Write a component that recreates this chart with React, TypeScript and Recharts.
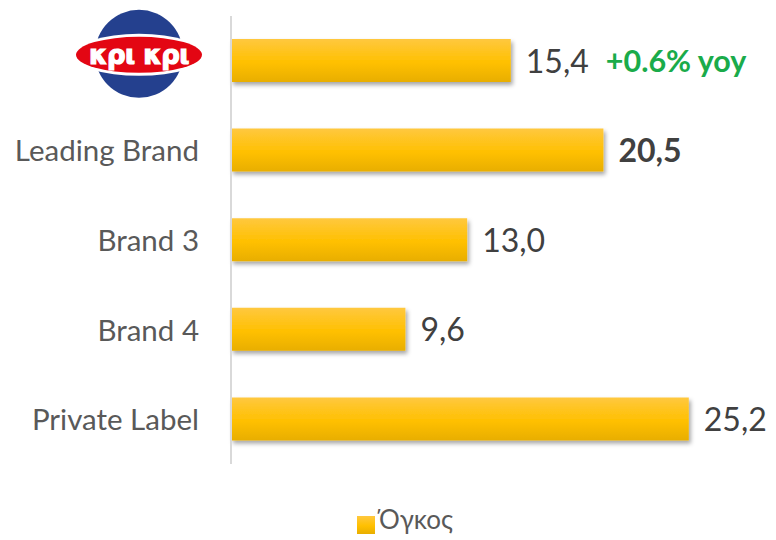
import { BarChart, Bar, XAxis, YAxis, Legend, LabelList } from 'recharts'

const categories = ['κρι κρι', 'Leading Brand', 'Brand 3', 'Brand 4', 'Private Label']
const volumes = [15.4, 20.5, 13.0, 9.6, 25.2]
const seriesName = 'Όγκος'
const yoyNote = '+0.6% yoy'
const highlightIdx = 1

const data = categories.map((name, i) => ({ name, volume: volumes[i] }))

const FONT = 'Lato, "Open Sans", sans-serif'

const fmt = (v: number) => v.toFixed(1).replace('.', ',')

function Logo({ cx, cy }: { cx: number; cy: number }) {
  return (
    <g>
      <circle cx={cx} cy={cy} r={44} fill="#24408e" />
      <ellipse cx={cx} cy={cy + 1} rx={66} ry={21} fill="#ffffff" />
      <ellipse cx={cx} cy={cy + 1} rx={63} ry={18} fill="#e30613" />
      <text
        x={cx}
        y={cy + 10}
        textAnchor="middle"
        fill="#ffffff"
        stroke="#ffffff"
        strokeWidth={1.2}
        style={{ fontFamily: '"DejaVu Sans", sans-serif', fontWeight: 700, fontSize: 26, letterSpacing: -0.5 }}
      >
        κρι κρι
      </text>
    </g>
  )
}

function CategoryTick({ x, y, payload, index }: any) {
  if (index === 0) return <Logo cx={x - 92} cy={y - 7} />
  return (
    <text
      x={x - 32}
      y={y}
      dy={11}
      textAnchor="end"
      fill="#595959"
      style={{ fontFamily: FONT, fontSize: 29.5 }}
    >
      {payload.value}
    </text>
  )
}

function ValueLabel({ x, y, width, height, value, index }: any) {
  const lx = x + width + 15
  const ly = y + height / 2 + 12
  return (
    <g>
      <text
        x={lx}
        y={ly}
        fill="#404040"
        style={{ fontFamily: FONT, fontSize: 32, fontWeight: index === highlightIdx ? 700 : 400 }}
      >
        {fmt(Number(value))}
      </text>
      {index === 0 && (
        <text
          x={lx + 80}
          y={ly - 1}
          fill="#1aab4a"
          style={{ fontFamily: FONT, fontSize: 30.5, fontWeight: 700 }}
        >
          {yoyNote}
        </text>
      )}
    </g>
  )
}

export default function App() {
  return (
    <div style={{ position: 'absolute', left: 0, top: 0, background: '#fff' }}>
      <BarChart
        width={776}
        height={540}
        data={data}
        layout="vertical"
        margin={{ top: 16, right: 0, bottom: 44, left: 0 }}
      >
        <defs>
          <linearGradient id="barFill" x1="0" y1="0" x2="0" y2="1">
            <stop offset="0%" stopColor="#ffc83f" />
            <stop offset="55%" stopColor="#ffc000" />
            <stop offset="100%" stopColor="#e8ae00" />
          </linearGradient>
          <filter id="barShadow" x="-5%" y="-20%" width="115%" height="160%">
            <feDropShadow dx={2} dy={3} stdDeviation={2} floodColor="#000" floodOpacity={0.35} />
          </filter>
        </defs>
        <XAxis type="number" domain={[0, 30]} hide />
        <YAxis
          type="category"
          dataKey="name"
          width={231}
          tickLine={false}
          tickSize={0}
          tickMargin={0}
          axisLine={{ stroke: '#d9d9d9', strokeWidth: 2 }}
          tick={<CategoryTick />}
          interval={0}
        />
        <Legend
          verticalAlign="bottom"
          align="center"
          iconType="square"
          iconSize={18}
          wrapperStyle={{ left: 22, top: 503 }}
          formatter={(v: string) => (
            <span style={{ color: '#595959', fontFamily: FONT, fontSize: 26 }}>{v}</span>
          )}
        />
        <Bar
          dataKey="volume"
          name={seriesName}
          fill="url(#barFill)"
          barSize={43}
          filter="url(#barShadow)"
          isAnimationActive={false}
        >
          <LabelList dataKey="volume" content={<ValueLabel />} />
        </Bar>
      </BarChart>
    </div>
  )
}
